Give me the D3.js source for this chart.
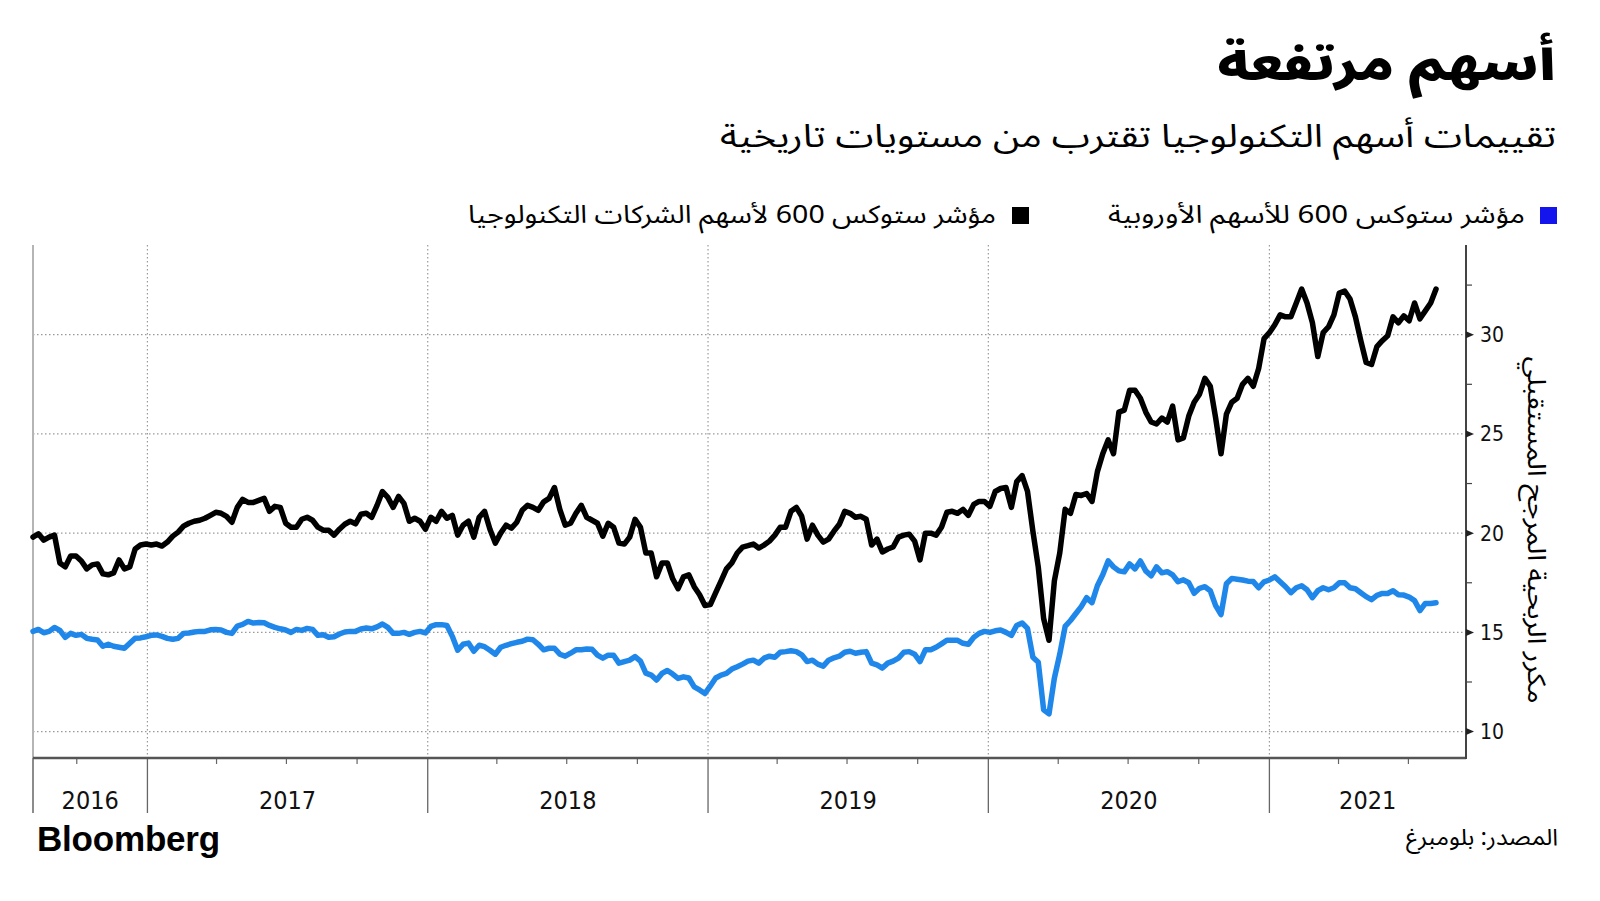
<!DOCTYPE html>
<html><head><meta charset="utf-8">
<script src="https://cdn.jsdelivr.net/npm/d3@7"></script>
<style>
html,body{margin:0;padding:0;background:#fff;}
svg{display:block;}
</style></head>
<body>
<svg id="chart" width="1600" height="901"></svg>
<script>
const title = "أسهم مرتفعة";
const subtitle = "تقييمات أسهم التكنولوجيا تقترب من مستويات تاريخية";
const seriesNames = ["مؤشر ستوكس 600 للأسهم الأوروبية", "مؤشر ستوكس 600 لأسهم الشركات التكنولوجيا"];
const yAxisTitle = "مكرر الربحية المرجح المستقبلي";
const sourceText = "المصدر: بلومبرغ";
const yTicks = [10, 15, 20, 25, 30];
const yMinorTicks = [12.5, 17.5, 22.5, 27.5, 32.5];
const yearLabels = ["2016", "2017", "2018", "2019", "2020", "2021"];

const dates = [
"2016-08-05","2016-08-12","2016-08-19","2016-08-26","2016-09-02","2016-09-09","2016-09-16","2016-09-23","2016-09-30","2016-10-07","2016-10-14","2016-10-21","2016-10-28","2016-11-04","2016-11-11","2016-11-18","2016-11-25","2016-12-02","2016-12-09","2016-12-16","2016-12-23","2016-12-30",
"2017-01-06","2017-01-13","2017-01-20","2017-01-27","2017-02-03","2017-02-10","2017-02-17","2017-02-24","2017-03-03","2017-03-10","2017-03-17","2017-03-24","2017-03-31","2017-04-07","2017-04-14","2017-04-21","2017-04-28","2017-05-05","2017-05-12","2017-05-19","2017-05-26","2017-06-02","2017-06-09","2017-06-16","2017-06-23","2017-06-30","2017-07-07","2017-07-14","2017-07-21","2017-07-28","2017-08-04","2017-08-11","2017-08-18","2017-08-25","2017-09-01","2017-09-08","2017-09-15","2017-09-22","2017-09-29","2017-10-06","2017-10-13","2017-10-20","2017-10-27","2017-11-03","2017-11-10","2017-11-17","2017-11-24","2017-12-01","2017-12-08","2017-12-15","2017-12-22","2017-12-29",
"2018-01-05","2018-01-12","2018-01-19","2018-01-26","2018-02-02","2018-02-09","2018-02-16","2018-02-23","2018-03-02","2018-03-09","2018-03-16","2018-03-23","2018-03-30","2018-04-06","2018-04-13","2018-04-20","2018-04-27","2018-05-04","2018-05-11","2018-05-18","2018-05-25","2018-06-01","2018-06-08","2018-06-15","2018-06-22","2018-06-29","2018-07-06","2018-07-13","2018-07-20","2018-07-27","2018-08-03","2018-08-10","2018-08-17","2018-08-24","2018-08-31","2018-09-07","2018-09-14","2018-09-21","2018-09-28","2018-10-05","2018-10-12","2018-10-19","2018-10-26","2018-11-02","2018-11-09","2018-11-16","2018-11-23","2018-11-30","2018-12-07","2018-12-14","2018-12-21","2018-12-28",
"2019-01-04","2019-01-11","2019-01-18","2019-01-25","2019-02-01","2019-02-08","2019-02-15","2019-02-22","2019-03-01","2019-03-08","2019-03-15","2019-03-22","2019-03-29","2019-04-05","2019-04-12","2019-04-19","2019-04-26","2019-05-03","2019-05-10","2019-05-17","2019-05-24","2019-05-31","2019-06-07","2019-06-14","2019-06-21","2019-06-28","2019-07-05","2019-07-12","2019-07-19","2019-07-26","2019-08-02","2019-08-09","2019-08-16","2019-08-23","2019-08-30","2019-09-06","2019-09-13","2019-09-20","2019-09-27","2019-10-04","2019-10-11","2019-10-18","2019-10-25","2019-11-01","2019-11-08","2019-11-15","2019-11-22","2019-11-29","2019-12-06","2019-12-13","2019-12-20","2019-12-27",
"2020-01-03","2020-01-10","2020-01-17","2020-01-24","2020-01-31","2020-02-07","2020-02-14","2020-02-21","2020-02-28","2020-03-06","2020-03-13","2020-03-20","2020-03-27","2020-04-03","2020-04-10","2020-04-17","2020-04-24","2020-05-01","2020-05-08","2020-05-15","2020-05-22","2020-05-29","2020-06-05","2020-06-12","2020-06-19","2020-06-26","2020-07-03","2020-07-10","2020-07-17","2020-07-24","2020-07-31","2020-08-07","2020-08-14","2020-08-21","2020-08-28","2020-09-04","2020-09-11","2020-09-18","2020-09-25","2020-10-02","2020-10-09","2020-10-16","2020-10-23","2020-10-30","2020-11-06","2020-11-13","2020-11-20","2020-11-27","2020-12-04","2020-12-11","2020-12-18","2020-12-25",
"2021-01-01","2021-01-08","2021-01-15","2021-01-22","2021-01-29","2021-02-05","2021-02-12","2021-02-19","2021-02-26","2021-03-05","2021-03-12","2021-03-19","2021-03-26","2021-04-02","2021-04-09","2021-04-16","2021-04-23","2021-04-30","2021-05-07","2021-05-14","2021-05-21","2021-05-28","2021-06-04","2021-06-11","2021-06-18","2021-06-25","2021-07-02","2021-07-09","2021-07-16","2021-07-23","2021-07-30","2021-08-06"
];

// Stoxx 600 Technology forward P/E (black)
const techPE = [
19.8,19.97,19.65,19.8,19.9,18.5,18.3,18.85,18.85,18.6,18.2,18.4,18.45,17.95,17.9,18.0,18.65,18.2,18.3,19.2,19.4,19.45,
19.4,19.45,19.35,19.55,19.85,20.05,20.35,20.5,20.6,20.65,20.75,20.9,21.05,21.0,20.85,20.55,21.3,21.7,21.55,21.55,21.65,21.75,21.1,21.35,21.3,20.5,20.3,20.3,20.7,20.8,20.65,20.3,20.15,20.15,19.9,20.2,20.45,20.6,20.47,20.95,21.0,20.8,21.4,22.1,21.8,21.3,21.85,21.5,20.6,20.75,20.6,20.2,
20.8,20.6,21.1,20.75,20.9,19.9,20.4,20.6,19.8,20.8,21.1,20.2,19.5,20.0,20.4,20.25,20.55,21.15,21.4,21.3,21.15,21.58,21.75,22.3,21.2,20.4,20.5,21.0,21.4,20.8,20.65,20.5,19.85,20.5,20.3,19.5,19.45,19.8,20.7,20.3,19.0,19.0,17.8,18.5,18.5,17.7,17.2,17.8,17.9,17.3,16.9,16.35,
16.4,17.0,17.6,18.2,18.5,19.0,19.3,19.37,19.45,19.25,19.4,19.6,19.9,20.3,20.3,21.1,21.3,20.85,19.7,20.4,19.9,19.55,19.7,20.1,20.45,21.1,21.0,20.8,20.85,20.7,19.4,19.7,19.05,19.2,19.3,19.8,19.9,19.95,19.6,18.65,20.0,20.0,19.9,20.3,21.05,21.1,21.0,21.2,20.9,21.45,21.6,21.6,
21.35,22.1,22.25,22.3,21.3,22.6,22.9,22.1,20.1,18.3,15.7,14.6,17.6,19.0,21.2,21.0,21.95,21.9,22.0,21.6,23.1,24.0,24.7,24.0,26.1,26.2,27.2,27.2,26.8,26.1,25.6,25.5,25.8,25.6,26.4,24.7,24.8,25.9,26.6,27.0,27.8,27.4,25.8,24.0,26.0,26.6,26.8,27.5,27.8,27.4,28.3,29.8,
30.1,30.5,31.0,30.9,30.9,31.6,32.3,31.6,30.6,28.9,30.1,30.4,31.0,32.1,32.2,31.8,30.9,29.7,28.6,28.5,29.4,29.7,29.95,30.9,30.6,30.95,30.7,31.6,30.8,31.2,31.6,32.3
];

// Stoxx 600 forward P/E (blue)
const europePE = [
15.05,15.15,14.98,15.05,15.25,15.1,14.75,14.95,14.85,14.9,14.7,14.65,14.62,14.3,14.4,14.3,14.25,14.2,14.45,14.7,14.72,14.78,
14.85,14.87,14.8,14.7,14.65,14.7,14.95,14.97,15.02,15.05,15.05,15.13,15.14,15.12,15.0,14.95,15.32,15.4,15.55,15.47,15.5,15.48,15.35,15.25,15.18,15.12,15.0,15.15,15.1,15.2,15.15,14.85,14.88,14.75,14.78,14.92,15.02,15.05,15.05,15.17,15.22,15.18,15.28,15.42,15.25,14.95,14.95,15.0,14.9,15.0,15.05,14.97,
15.3,15.39,15.39,15.35,14.8,14.1,14.4,14.46,14.05,14.35,14.28,14.1,13.9,14.25,14.35,14.43,14.5,14.55,14.66,14.63,14.4,14.12,14.2,14.2,13.9,13.8,13.95,14.12,14.12,14.16,14.15,13.85,13.7,13.85,13.85,13.45,13.53,13.6,13.78,13.55,12.95,12.85,12.6,12.93,13.08,12.9,12.68,12.76,12.7,12.25,12.1,11.92,
12.3,12.7,12.85,12.93,13.15,13.27,13.4,13.55,13.6,13.45,13.7,13.8,13.75,14.0,14.03,14.07,14.03,13.87,13.53,13.6,13.4,13.3,13.6,13.72,13.8,14.0,14.05,13.95,14.0,14.03,13.45,13.36,13.2,13.45,13.55,13.7,14.0,14.03,13.9,13.53,14.12,14.12,14.25,14.42,14.6,14.6,14.6,14.45,14.4,14.75,14.95,15.05,
15.0,15.08,15.12,15.0,14.85,15.35,15.47,15.2,13.75,13.5,11.1,10.9,12.7,13.9,15.3,15.6,15.95,16.3,16.75,16.5,17.35,17.9,18.6,18.3,18.1,18.05,18.45,18.2,18.6,18.1,17.85,18.3,18.0,18.06,17.9,17.55,17.65,17.5,16.97,17.22,17.3,17.1,16.35,15.9,17.45,17.72,17.68,17.64,17.58,17.56,17.25,17.55,
17.64,17.8,17.55,17.3,17.0,17.25,17.35,17.15,16.75,17.1,17.25,17.15,17.25,17.5,17.5,17.25,17.2,17.0,16.8,16.65,16.87,16.96,16.96,17.1,16.9,16.88,16.78,16.6,16.1,16.46,16.46,16.49
];

if (dates.length !== techPE.length || dates.length !== europePE.length) {
  console.error("length mismatch", dates.length, techPE.length, europePE.length);
}

const parse = d3.timeParse("%Y-%m-%d");
const techData = dates.map((d, i) => ({date: parse(d), value: techPE[i]}));
const euroData = dates.map((d, i) => ({date: parse(d), value: europePE[i]}));

const arabicFont = "'Noto Sans Arabic','Noto Naskh Arabic','DejaVu Sans',sans-serif";
const numFont = "'DejaVu Sans Condensed','DejaVu Sans',sans-serif";

const svg = d3.select("#chart");
const L = 33, R = 1466, T = 245, B = 758;

const x = d3.scaleTime()
  .domain([parse("2016-08-05"), parse("2021-09-14")])
  .range([L, R]);
const y = d3.scaleLinear().domain([8.67, 34.52]).range([B, T]);

function arText(xr, yb, size, txt, len, weight) {
  const t = svg.append("text").attr("x", xr).attr("y", yb)
    .attr("direction", "rtl").attr("text-anchor", "start")
    .style("font-family", arabicFont).style("font-size", size + "px")
    .style("font-weight", weight || "normal")
    .attr("fill", "#000").text(txt);
  if (len) t.attr("textLength", len).attr("lengthAdjust", "spacingAndGlyphs");
  return t;
}

// Title & subtitle
arText(1556, 80, 47, title, 339, "900");
arText(1556, 147, 32, subtitle, 836);

// Legend
const legend = [
  {sq: 1540, tx: 1525, len: 417, color: "#1414ee", name: seriesNames[0]},
  {sq: 1012, tx: 996, len: 528, color: "#000000", name: seriesNames[1]}
];
legend.forEach(l => {
  svg.append("rect").attr("x", l.sq).attr("y", 207).attr("width", 17).attr("height", 17).attr("fill", l.color);
  arText(l.tx, 223, 25, l.name, l.len);
});

// Horizontal dotted grid
svg.append("g").selectAll("line").data(yTicks).join("line")
  .attr("x1", L).attr("x2", R).attr("y1", d => y(d)).attr("y2", d => y(d))
  .attr("stroke", "#9a9a9a").attr("stroke-width", 1.2).attr("stroke-dasharray", "1.5,2.5");

// Year boundaries
const yearStarts = d3.timeYear.range(parse("2017-01-01"), parse("2022-01-01"));
svg.append("g").selectAll("line").data(yearStarts).join("line")
  .attr("x1", d => x(d)).attr("x2", d => x(d)).attr("y1", T).attr("y2", B)
  .attr("stroke", "#9a9a9a").attr("stroke-width", 1.2).attr("stroke-dasharray", "1.5,2.5");
svg.append("g").selectAll("line").data(yearStarts).join("line")
  .attr("x1", d => x(d)).attr("x2", d => x(d)).attr("y1", B).attr("y2", 813)
  .attr("stroke", "#666").attr("stroke-width", 1.3);

// Quarter minor ticks
const quarters = d3.timeMonth.every(3).range(parse("2016-08-05"), parse("2021-09-14"))
  .filter(d => d.getMonth() !== 0);
svg.append("g").selectAll("line").data(quarters).join("line")
  .attr("x1", d => x(d)).attr("x2", d => x(d)).attr("y1", B).attr("y2", B + 6)
  .attr("stroke", "#666").attr("stroke-width", 1.2);

// Year labels centred in their visible span
const yearSpans = yearLabels.map(yr => {
  const s = Math.max(x(parse(yr + "-01-01")), L);
  const e = Math.min(x(parse((+yr + 1) + "-01-01")), R);
  return {label: yr, cx: (s + e) / 2};
});
svg.append("g").selectAll("text").data(yearSpans).join("text")
  .attr("x", d => d.cx).attr("y", 809).attr("text-anchor", "middle")
  .style("font-family", numFont).style("font-size", "25px").attr("fill", "#111")
  .text(d => d.label);

// Left axis line
svg.append("line").attr("x1", L).attr("x2", L).attr("y1", T).attr("y2", B)
  .attr("stroke", "#b5b5b5").attr("stroke-width", 2);
svg.append("line").attr("x1", L).attr("x2", L).attr("y1", B).attr("y2", 813)
  .attr("stroke", "#666").attr("stroke-width", 1.5);

// Series lines
const line = d3.line().x(d => x(d.date)).y(d => y(d.value)).curve(d3.curveLinear);
svg.append("path").datum(euroData).attr("d", line)
  .attr("fill", "none").attr("stroke", "#1f87ea").attr("stroke-width", 5.5)
  .attr("stroke-linejoin", "round").attr("stroke-linecap", "round");
svg.append("path").datum(techData).attr("d", line)
  .attr("fill", "none").attr("stroke", "#000").attr("stroke-width", 5.5)
  .attr("stroke-linejoin", "round").attr("stroke-linecap", "round");

// Bottom axis line
svg.append("line").attr("x1", L).attr("x2", R).attr("y1", B).attr("y2", B)
  .attr("stroke", "#555").attr("stroke-width", 2.5);

// Right axis
svg.append("line").attr("x1", R).attr("x2", R).attr("y1", T).attr("y2", B + 1)
  .attr("stroke", "#444").attr("stroke-width", 2);
svg.append("g").selectAll("path").data(yTicks).join("path")
  .attr("d", d => `M${R},${y(d) - 3.5}L${R + 8},${y(d)}L${R},${y(d) + 3.5}Z`)
  .attr("fill", "#222");
svg.append("g").selectAll("line").data(yMinorTicks).join("line")
  .attr("x1", R).attr("x2", R + 6).attr("y1", d => y(d)).attr("y2", d => y(d))
  .attr("stroke", "#444").attr("stroke-width", 1.2);
svg.append("g").selectAll("text").data(yTicks).join("text")
  .attr("x", R + 14).attr("y", d => y(d)).attr("dy", "0.36em")
  .style("font-family", numFont).style("font-size", "21px").attr("fill", "#111")
  .text(d => d);

// Y axis title (rotated)
svg.append("text").attr("transform", "translate(1537,530) rotate(90)")
  .attr("direction", "rtl").attr("text-anchor", "middle").attr("dy", "0.35em")
  .style("font-family", arabicFont).style("font-size", "25px").attr("fill", "#000")
  .attr("textLength", 347).attr("lengthAdjust", "spacingAndGlyphs")
  .text(yAxisTitle);

// Footer
svg.append("text").attr("x", 37).attr("y", 851)
  .style("font-family", "'Liberation Sans',Arial,sans-serif").style("font-weight", "bold")
  .style("font-size", "35px").style("letter-spacing", "-0.2px").attr("fill", "#000")
  .text("Bloomberg");
arText(1558, 845, 23, sourceText, 152);
</script>
</body></html>
